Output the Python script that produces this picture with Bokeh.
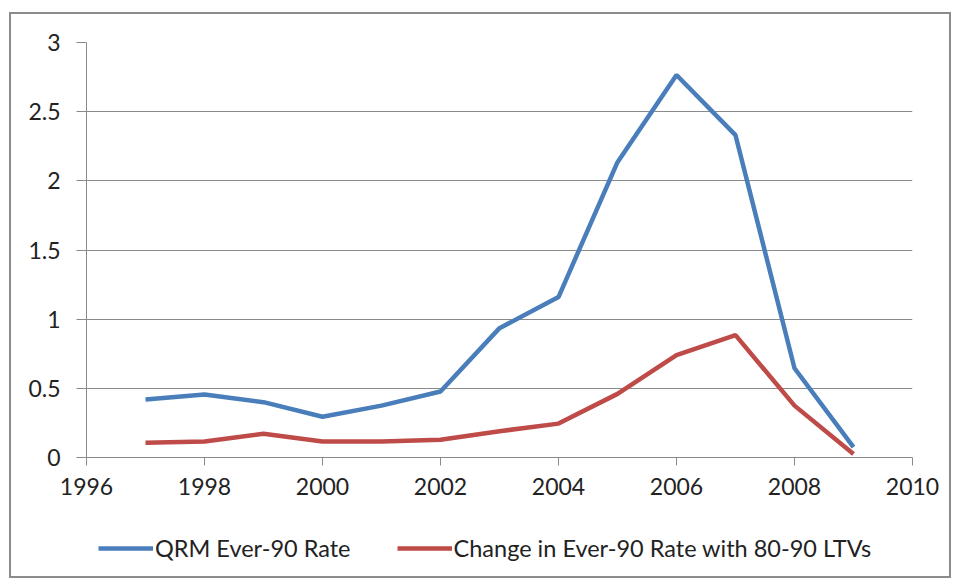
from bokeh.plotting import figure
from bokeh.layouts import column
from bokeh.models import Legend, LegendItem, FixedTicker
from bokeh.embed import file_html
from bokeh.resources import INLINE

years = [1997, 1998, 1999, 2000, 2001, 2002, 2003, 2004, 2005, 2006, 2007, 2008, 2009]
qrm_ever90 = [0.42, 0.455, 0.40, 0.295, 0.375, 0.477, 0.935, 1.16, 2.135, 2.765, 2.33, 0.645, 0.075]
change_ever90_ltv = [0.106, 0.116, 0.171, 0.116, 0.116, 0.128, 0.19, 0.245, 0.46, 0.74, 0.885, 0.375, 0.025]
series_names = ["QRM Ever-90 Rate", "Change in Ever-90 Rate with 80-90 LTVs"]
series_colors = ["#4a7ebb", "#be4b48"]
x_ticks = [1996, 1998, 2000, 2002, 2004, 2006, 2008, 2010]
y_ticks = [0, 0.5, 1, 1.5, 2, 2.5, 3]
y_tick_labels = ["0", "0.5", "1", "1.5", "2", "2.5", "3"]

FONT = "Lato"
GRAY = "#8a8a8a"

p = figure(width=938, height=500, output_backend="svg", toolbar_location=None,
           x_range=(1996, 2010), y_range=(0, 3),
           min_border_left=75, min_border_right=37, min_border_top=28, min_border_bottom=57,
           background_fill_color="white", border_fill_color="white")
p.outline_line_color = None

for ax in (p.xaxis[0], p.yaxis[0]):
    ax.axis_line_color = GRAY
    ax.major_tick_line_color = GRAY
    ax.minor_tick_line_color = None
    ax.major_tick_in = 0
    ax.major_label_text_font = FONT
    ax.major_label_text_font_size = "23px"
    ax.major_label_text_color = "#222222"

p.xaxis.ticker = FixedTicker(ticks=x_ticks)
p.xaxis.major_tick_out = 8
p.xaxis.major_label_standoff = 12
p.yaxis.ticker = FixedTicker(ticks=y_ticks)
p.yaxis.major_label_overrides = {t: l for t, l in zip(y_ticks, y_tick_labels)}
p.yaxis.major_tick_out = 10
p.yaxis.major_label_standoff = 16

p.xgrid.grid_line_color = None
p.ygrid.grid_line_color = GRAY
p.ygrid.grid_line_width = 1.2

p.line(years, qrm_ever90, line_color=series_colors[0], line_width=4.5)
p.line(years, change_ever90_ltv, line_color=series_colors[1], line_width=4.5)

# legend strip under the chart (its lines lie outside its visible ranges; only the legend shows)
lg = figure(width=938, height=62, output_backend="svg", toolbar_location=None,
            x_range=(0, 1), y_range=(0, 1), x_axis_location=None, y_axis_location=None,
            min_border=0, min_border_left=0, min_border_right=0, min_border_top=0, min_border_bottom=0,
            background_fill_color="white", border_fill_color="white")
lg.outline_line_color = None
lg.xgrid.visible = False
lg.ygrid.visible = False
lr1 = lg.line(years, qrm_ever90, line_color=series_colors[0], line_width=4.5)
lr2 = lg.line(years, change_ever90_ltv, line_color=series_colors[1], line_width=4.5)

legend = Legend(items=[LegendItem(label=series_names[0], renderers=[lr1]),
                       LegendItem(label=series_names[1], renderers=[lr2])],
                orientation="horizontal", location=(12, 14),
                label_text_font=FONT, label_text_font_size="23.5px", label_text_color="#222222",
                glyph_width=55, glyph_height=20, label_standoff=2, spacing=46,
                padding=5, margin=0, border_line_color=None, background_fill_alpha=0)
lg.add_layout(legend, "center")

layout = column(p, lg, spacing=0, margin=(12, 0, 0, 9),
                styles={"border": "2px solid #8c8c8c", "background-color": "white"})

open("out.html", "w").write(file_html(layout, INLINE))
